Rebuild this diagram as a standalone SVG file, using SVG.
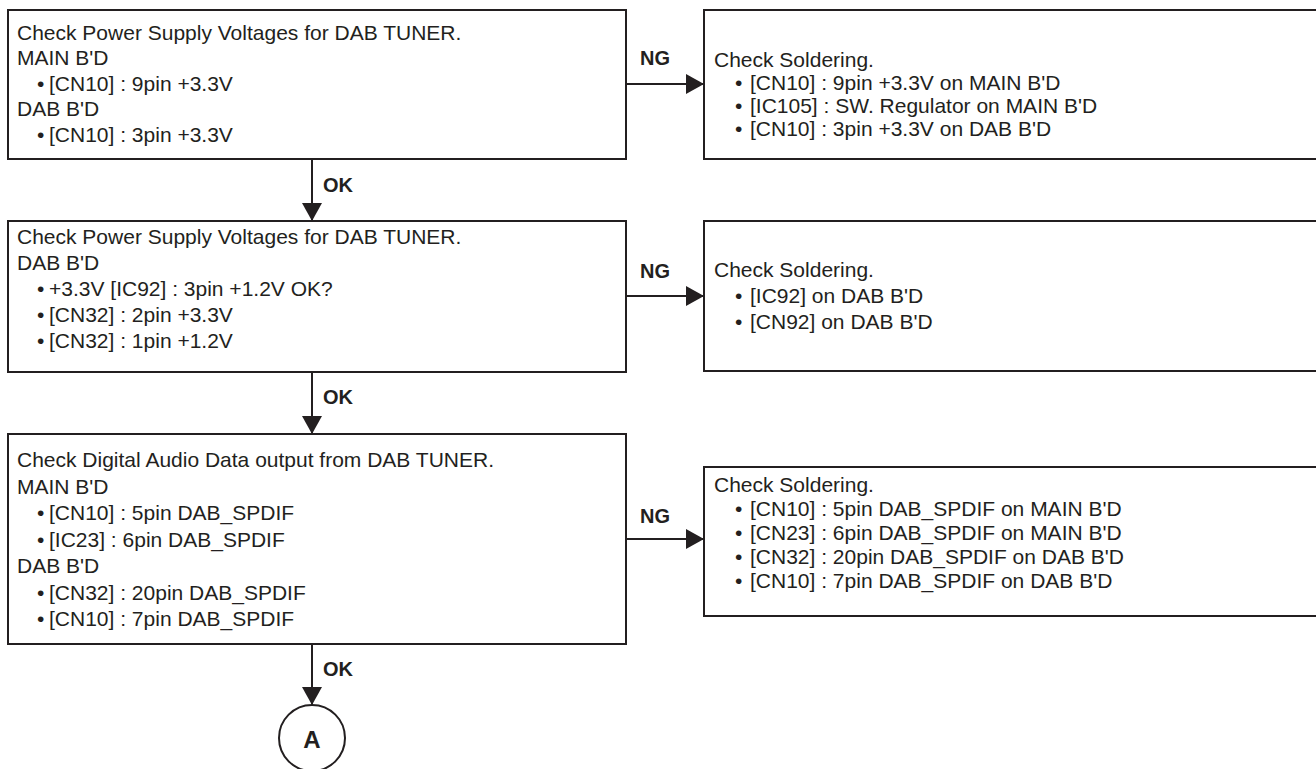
<svg xmlns="http://www.w3.org/2000/svg" width="1316" height="769" viewBox="0 0 1316 769">
<style>
.box{fill:#fff;stroke:#231f20;stroke-width:2}
.t{font-family:"Liberation Sans",Arial,sans-serif;font-size:21px;fill:#231f20}
.lbl{font-family:"Liberation Sans",Arial,sans-serif;font-size:20px;font-weight:bold;fill:#231f20}
.ln{stroke:#231f20;stroke-width:2;fill:none}
</style>
<defs>
<marker id="ah" markerUnits="userSpaceOnUse" markerWidth="18" markerHeight="20" refX="18" refY="10" orient="auto">
<path d="M0,0 L18,10 L0,20 z" fill="#231f20"/>
</marker>
</defs>
<rect width="1316" height="769" fill="#fff"/>
<g id="connectors">
<line class="ln" x1="626" y1="84" x2="704" y2="84" marker-end="url(#ah)"/>
<text class="lbl" x="640" y="65">NG</text>
<line class="ln" x1="312" y1="159" x2="312" y2="221" marker-end="url(#ah)"/>
<text class="lbl" x="323" y="192">OK</text>
<line class="ln" x1="626" y1="296" x2="704" y2="296" marker-end="url(#ah)"/>
<text class="lbl" x="640" y="278">NG</text>
<line class="ln" x1="312" y1="372" x2="312" y2="434" marker-end="url(#ah)"/>
<text class="lbl" x="323" y="404">OK</text>
<line class="ln" x1="626" y1="539" x2="704" y2="539" marker-end="url(#ah)"/>
<text class="lbl" x="640" y="523">NG</text>
<line class="ln" x1="312" y1="644" x2="312" y2="705" marker-end="url(#ah)"/>
<text class="lbl" x="323" y="676">OK</text>
</g>
<g id="n1">
<rect class="box" x="8" y="10" width="618" height="149"/>
<text class="t" x="17" y="39.5">Check Power Supply Voltages for DAB TUNER.</text>
<text class="t" x="17" y="65">MAIN B'D</text>
<text class="t" y="90.5"><tspan x="37">•</tspan><tspan x="49">[CN10] : 9pin +3.3V</tspan></text>
<text class="t" x="17" y="116">DAB B'D</text>
<text class="t" y="141.5"><tspan x="37">•</tspan><tspan x="49">[CN10] : 3pin +3.3V</tspan></text>
</g>
<g id="n2">
<rect class="box" x="704" y="10" width="620" height="149"/>
<text class="t" x="714" y="67">Check Soldering.</text>
<text class="t" y="90"><tspan x="735">•</tspan><tspan x="750">[CN10] : 9pin +3.3V on MAIN B'D</tspan></text>
<text class="t" y="113"><tspan x="735">•</tspan><tspan x="750">[IC105] : SW. Regulator on MAIN B'D</tspan></text>
<text class="t" y="136"><tspan x="735">•</tspan><tspan x="750">[CN10] : 3pin +3.3V on DAB B'D</tspan></text>
</g>
<g id="n3">
<rect class="box" x="8" y="221" width="618" height="151"/>
<text class="t" x="17" y="244">Check Power Supply Voltages for DAB TUNER.</text>
<text class="t" x="17" y="270">DAB B'D</text>
<text class="t" y="296"><tspan x="37">•</tspan><tspan x="49">+3.3V [IC92] : 3pin +1.2V OK?</tspan></text>
<text class="t" y="322"><tspan x="37">•</tspan><tspan x="49">[CN32] : 2pin +3.3V</tspan></text>
<text class="t" y="348"><tspan x="37">•</tspan><tspan x="49">[CN32] : 1pin +1.2V</tspan></text>
</g>
<g id="n4">
<rect class="box" x="704" y="221" width="620" height="150"/>
<text class="t" x="714" y="277">Check Soldering.</text>
<text class="t" y="303"><tspan x="735">•</tspan><tspan x="750">[IC92] on DAB B'D</tspan></text>
<text class="t" y="329"><tspan x="735">•</tspan><tspan x="750">[CN92] on DAB B'D</tspan></text>
</g>
<g id="n5">
<rect class="box" x="8" y="434" width="618" height="210"/>
<text class="t" x="17" y="467">Check Digital Audio Data output from DAB TUNER.</text>
<text class="t" x="17" y="493.5">MAIN B'D</text>
<text class="t" y="520"><tspan x="37">•</tspan><tspan x="49">[CN10] : 5pin DAB_SPDIF</tspan></text>
<text class="t" y="546.5"><tspan x="37">•</tspan><tspan x="49">[IC23] : 6pin DAB_SPDIF</tspan></text>
<text class="t" x="17" y="573">DAB B'D</text>
<text class="t" y="599.5"><tspan x="37">•</tspan><tspan x="49">[CN32] : 20pin DAB_SPDIF</tspan></text>
<text class="t" y="626"><tspan x="37">•</tspan><tspan x="49">[CN10] : 7pin DAB_SPDIF</tspan></text>
</g>
<g id="n6">
<rect class="box" x="704" y="467" width="620" height="149"/>
<text class="t" x="714" y="492">Check Soldering.</text>
<text class="t" y="516"><tspan x="735">•</tspan><tspan x="750">[CN10] : 5pin DAB_SPDIF on MAIN B'D</tspan></text>
<text class="t" y="540"><tspan x="735">•</tspan><tspan x="750">[CN23] : 6pin DAB_SPDIF on MAIN B'D</tspan></text>
<text class="t" y="564"><tspan x="735">•</tspan><tspan x="750">[CN32] : 20pin DAB_SPDIF on DAB B'D</tspan></text>
<text class="t" y="588"><tspan x="735">•</tspan><tspan x="750">[CN10] : 7pin DAB_SPDIF on DAB B'D</tspan></text>
</g>
<g id="nA">
<circle cx="312" cy="738" r="33" fill="#fff" stroke="#231f20" stroke-width="2"/>
<text x="312" y="748" text-anchor="middle" font-family="Liberation Sans, Arial, sans-serif" font-size="24" font-weight="bold" fill="#231f20">A</text>
</g>
</svg>
